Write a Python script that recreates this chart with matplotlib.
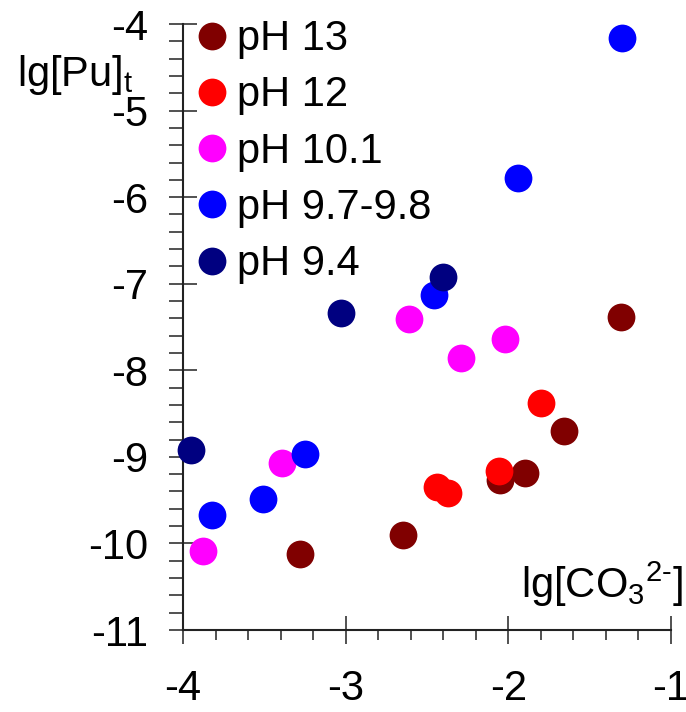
import matplotlib
matplotlib.use('Agg')
import matplotlib.pyplot as plt
from matplotlib.ticker import MultipleLocator

plt.rcParams['font.family'] = ['Liberation Sans', 'DejaVu Sans']
plt.rcParams['mathtext.fontset'] = 'custom'
plt.rcParams['mathtext.rm'] = 'Liberation Sans'

# data: lg[CO3 2-] vs lg[Pu]t per pH series
labels = ['pH 13', 'pH 12', 'pH 10.1', 'pH 9.7-9.8', 'pH 9.4']
colors = ['#800000', '#ff0000', '#ff00ff', '#0000ff', '#000080']

ph13_x = [-1.31, -1.66, -1.90, -2.05, -2.65, -3.28]
ph13_y = [-7.38, -8.70, -9.19, -9.27, -9.90, -10.12]
ph12_x = [-1.80, -2.06, -2.44, -2.37]
ph12_y = [-8.38, -9.16, -9.35, -9.42]
ph101_x = [-2.61, -2.02, -2.29, -3.39, -3.88]
ph101_y = [-7.41, -7.64, -7.86, -9.07, -10.09]
ph97_x = [-1.30, -1.94, -2.46, -3.25, -3.51, -3.82]
ph97_y = [-4.16, -5.78, -7.13, -8.97, -9.49, -9.67]
ph94_x = [-2.40, -3.03, -3.95]
ph94_y = [-6.92, -7.34, -8.92]

series = [(ph13_x, ph13_y), (ph12_x, ph12_y), (ph101_x, ph101_y),
          (ph97_x, ph97_y), (ph94_x, ph94_y)]

fig = plt.figure(figsize=(6.86, 7.12), dpi=100)
ax = fig.add_axes([183 / 686, 1 - 630 / 712, 488 / 686, 606 / 712])

for (xs, ys), c, lab in zip(series, colors, labels):
    ax.plot(xs, ys, 'o', color=c, markersize=20, markeredgewidth=0,
            label=lab, clip_on=False, zorder=3)

ax.set_xlim(-4, -1)
ax.set_ylim(-11, -4)
for s in ['top', 'right']:
    ax.spines[s].set_visible(False)
for s in ['left', 'bottom']:
    ax.spines[s].set_linewidth(1.5)
    ax.spines[s].set_color('#222222')

ax.xaxis.set_minor_locator(MultipleLocator(0.2))
ax.yaxis.set_minor_locator(MultipleLocator(0.2))
ax.set_xticks([-4, -3, -2, -1])
ax.set_xticklabels(['-4', '-3', '-2', '-1'])
ax.set_yticks([-4, -5, -6, -7, -8, -9, -10, -11])
ax.set_yticklabels(['-4', '-5', '-6', '-7', '-8', '-9', '-10', '-11'])

ax.tick_params(axis='both', which='major', direction='inout', length=20,
               width=1.2, color='#333333', labelsize=30)
ax.tick_params(axis='y', which='minor', direction='out', length=10,
               width=1.2, color='#333333')
ax.tick_params(axis='x', which='minor', direction='out', length=7,
               width=1.2, color='#333333')
ax.tick_params(axis='y', which='major', pad=15)
ax.tick_params(axis='x', which='major', pad=18)

fig.text(17 / 686, 1 - 86 / 712, r'lg[Pu]$_\mathrm{t}$', fontsize=30,
         ha='left', va='baseline')
fig.text(683 / 686, 1 - 598 / 712, r'lg[CO$_\mathrm{3}$$^\mathrm{2\text{-}}$]',
         fontsize=30, ha='right', va='baseline')

ax.legend(loc='upper left', bbox_to_anchor=(-0.025, 1.056), frameon=False,
          fontsize=30, handlelength=0.6, handletextpad=0.3,
          labelspacing=0.39, borderpad=0.2, numpoints=1)

fig.savefig('out.png', dpi=100)
